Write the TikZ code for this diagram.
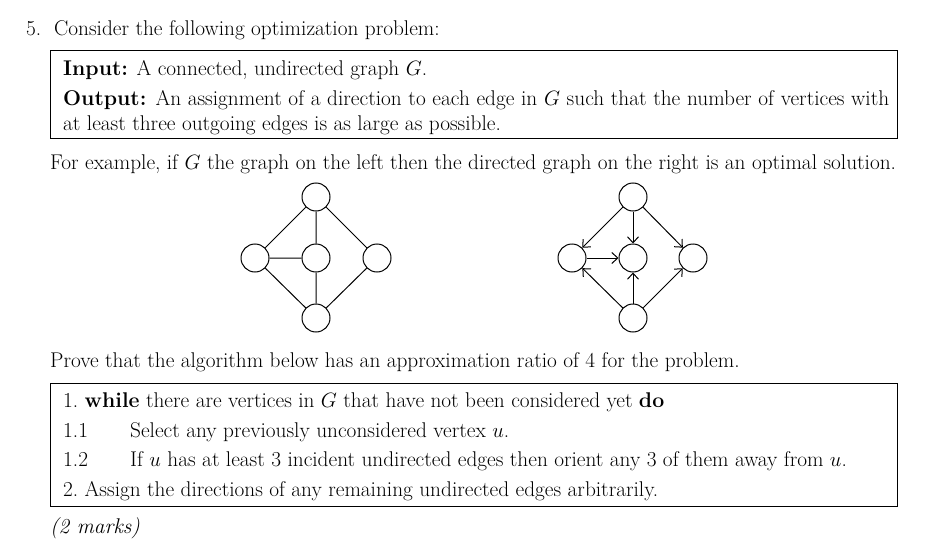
\documentclass[tikz,border=0pt]{standalone}
\usetikzlibrary{arrows.meta}
\begin{document}
\begin{tikzpicture}[x=1pt,y=-1pt,
  txt/.style={anchor=base west,inner sep=0pt,font=\fontsize{21.3}{24}\selectfont},
  vtx/.style={circle,draw,line width=1pt,minimum size=28pt,inner sep=0pt},
  edge/.style={line width=1pt},
  arr/.style={line width=1pt,-{Straight Barb[length=6pt,width=11pt]}}]
\useasboundingbox (0,0) rectangle (945,551);
\node[txt] (t0) at (26,36) {5.\ \ Consider the following optimization problem:};
\draw[line width=0.8pt] (50,50) rectangle (897,138);
\node[txt] (t1) at (63,76) {\textbf{Input:} A connected, undirected graph $G$.};
\node[txt] (t2) at (63,105) {\makebox[826pt][s]{\textbf{Output:} An assignment of a direction to each edge in $G$ such that the number of vertices with}};
\node[txt] (t3) at (63,130) {at least three outgoing edges is as large as possible.};
\node[txt] (t4) at (50,169) {For example, if $G$ the graph on the left then the directed graph on the right is an optimal solution.};
% left graph
\node[vtx] (a1) at (316,197) {};
\node[vtx] (a2) at (255,258) {};
\node[vtx] (a3) at (316,258) {};
\node[vtx] (a4) at (377,258) {};
\node[vtx] (a5) at (316,318) {};
\draw[edge] (a1)--(a2) (a1)--(a3) (a1)--(a4) (a2)--(a3) (a5)--(a2) (a5)--(a3) (a5)--(a4);
% right graph
\node[vtx] (b1) at (633,197) {};
\node[vtx] (b2) at (572,258) {};
\node[vtx] (b3) at (633,258) {};
\node[vtx] (b4) at (693,258) {};
\node[vtx] (b5) at (633,318) {};
\draw[arr] (b1)--(b2); \draw[arr] (b1)--(b3); \draw[arr] (b1)--(b4);
\draw[arr] (b2)--(b3); \draw[arr] (b5)--(b2); \draw[arr] (b5)--(b3); \draw[arr] (b5)--(b4);
\node[txt] (t5) at (50,367) {Prove that the algorithm below has an approximation ratio of 4 for the problem.};
\draw[line width=0.8pt] (50,383) rectangle (897,506);
\node[txt] (l1) at (63,407) {1.\ \textbf{while} there are vertices in $G$ that have not been considered yet \textbf{do}};
\node[txt] (l2) at (63,437) {1.1};
\node[txt] (l2b) at (130,437) {Select any previously unconsidered vertex $u$.};
\node[txt] (l3) at (63,466) {1.2};
\node[txt] (l3b) at (130,466) {If $u$ has at least 3 incident undirected edges then orient any 3 of them away from $u$.};
\node[txt] (l4) at (63,496) {2.\ Assign the directions of any remaining undirected edges arbitrarily.};
\node[txt] (m) at (50,533) {\textit{(2 marks)}};
\end{tikzpicture}
\end{document}
